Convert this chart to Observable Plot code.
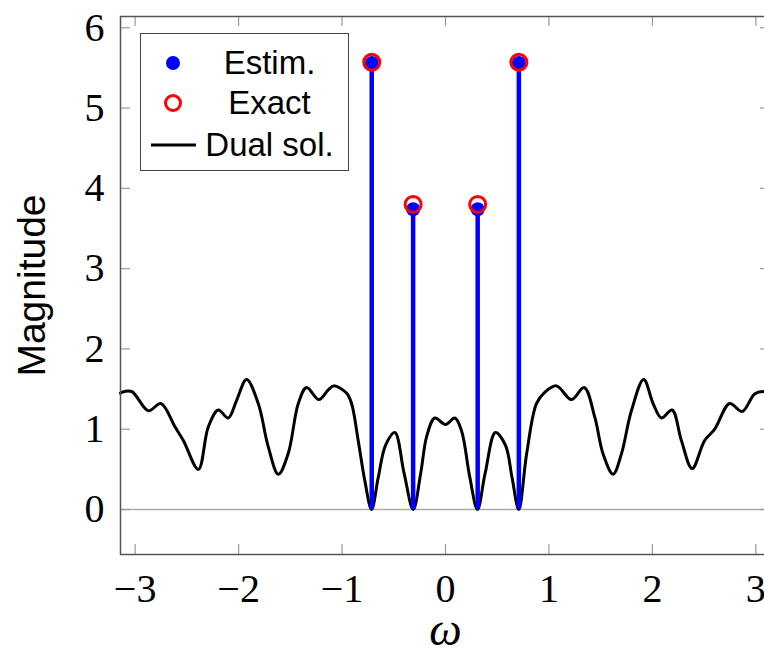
<!DOCTYPE html>
<html>
<head>
<meta charset="utf-8">
<script src="https://cdn.jsdelivr.net/npm/d3@7"></script>
<script src="https://cdn.jsdelivr.net/npm/@observablehq/plot@0.6"></script>
<style>
  html, body { margin: 0; padding: 0; background: white; overflow: hidden; }
  #wrap { position: relative; width: 764px; height: 650px; }
  #legend { position: absolute; left: 140px; top: 33px; width: 207px; height: 136px;
            border: 1.5px solid #444; background: white; font-family: "Liberation Sans", Arial, sans-serif; font-size: 33px; }
  .row { position: absolute; left: 0; width: 100%; height: 40px; }
  .row svg { position: absolute; left: 0; top: 0; }
  .row span { position: absolute; left: 50px; right: 0; text-align: center; line-height: 40px; top: 0; }
</style>
</head>
<body>
<div id="wrap"></div>
<script>
// Dual solution curve (omega, magnitude)
const dualOmega = [-3.142, -3.130, -3.034, -2.872, -2.751, -2.615, -2.534, -2.389, -2.293, -2.196, -2.100, -2.019,
  -1.923, -1.810, -1.713, -1.616, -1.520, -1.423, -1.343, -1.224, -1.133, -1.079, -0.957, -0.908, -0.844,
  -0.780, -0.715, -0.650, -0.580, -0.490, -0.400, -0.312, -0.240, -0.180, -0.103, 0.000,
  0.090, 0.155, 0.235, 0.309, 0.383, 0.483, 0.580, 0.643, 0.708, 0.785, 0.879, 0.959, 1.072, 1.217, 1.340,
  1.443, 1.524, 1.620, 1.700, 1.797, 1.916, 2.007, 2.087, 2.190, 2.280, 2.384, 2.505, 2.602,
  2.747, 2.867, 2.988, 3.070, 3.142];
const dualMag = [1.45, 1.46, 1.47, 1.23, 1.32, 1.03, 0.86, 0.50, 1.03, 1.24, 1.14, 1.36,
  1.62, 1.32, 0.78, 0.44, 0.70, 1.32, 1.52, 1.37, 1.49, 1.54, 1.45, 1.32, 0.86,
  0.36, 0.00, 0.40, 0.80, 0.96, 0.45, 0.00, 0.45, 0.92, 1.14, 1.06,
  1.14, 0.98, 0.40, 0.00, 0.45, 0.96, 0.80, 0.40, 0.00, 0.70, 1.32, 1.46, 1.54, 1.37, 1.52,
  1.15, 0.69, 0.44, 0.69, 1.23, 1.62, 1.32, 1.14, 1.24, 0.86, 0.51, 0.86, 1.00,
  1.32, 1.22, 1.44, 1.47, 1.45];

// Spikes
const spikeOmega = [-0.713, -0.313, 0.311, 0.709];
const estimMag = [5.56, 3.74, 3.74, 5.56];
const exactMag = [5.57, 3.80, 3.80, 5.57];

const xTicks = [-3, -2, -1, 0, 1, 2, 3];
const yTicks = [0, 1, 2, 3, 4, 5, 6];

const dual = dualOmega.map((w, i) => ({w, m: dualMag[i]}));
const estim = spikeOmega.map((w, i) => ({w, m: estimMag[i]}));
const exact = spikeOmega.map((w, i) => ({w, m: exactMag[i]}));

const serif = "Liberation Serif, Times New Roman, serif";
const sans = "Liberation Sans, Arial, sans-serif";
const tickStroke = "#9a9a9a";

const W = 764, H = 650, mL = 120, mR = -6, mT = 16, mB = 96;
const frameW = W - mL - mR, frameH = H - mT - mB, tickLen = 10;

const chart = Plot.plot({
  width: W,
  height: H,
  marginLeft: mL,
  marginRight: mR,
  marginTop: mT,
  marginBottom: mB,
  style: {maxWidth: "none", background: "white"},
  x: {domain: [-Math.PI, Math.PI]},
  y: {domain: [-0.56, 6.14]},
  axis: null,
  marks: [
    Plot.ruleY([0], {stroke: "#aaaaaa", strokeWidth: 1.5}),
    // inward ticks on four sides
    Plot.tickX(xTicks, {x: d => d, insetTop: frameH - tickLen, stroke: tickStroke, strokeWidth: 1.2}),
    Plot.tickX(xTicks, {x: d => d, insetBottom: frameH - tickLen, stroke: tickStroke, strokeWidth: 1.2}),
    Plot.tickY(yTicks, {y: d => d, insetRight: frameW - tickLen, stroke: tickStroke, strokeWidth: 1.2}),
    Plot.tickY(yTicks, {y: d => d, insetLeft: frameW - tickLen, stroke: tickStroke, strokeWidth: 1.2}),
    // tick labels
    Plot.axisX(xTicks, {anchor: "bottom", tickSize: 0, tickPadding: 19, fontSize: 40, fontFamily: serif, fill: "black", label: null, tickFormat: d3.format("d")}),
    Plot.axisY(yTicks, {anchor: "left", tickSize: 0, tickPadding: 16, fontSize: 40, fontFamily: serif, fill: "black", label: null, tickFormat: d3.format("d")}),
    // axis titles
    Plot.text(["ω"], {frameAnchor: "bottom", dy: 90, fontSize: 46, fontFamily: serif, fontStyle: "italic", fill: "black"}),
    Plot.text(["Magnitude"], {frameAnchor: "left", dx: -88, rotate: -90, textAnchor: "middle", fontSize: 39, fontFamily: sans, fill: "black"}),
    // curve
    Plot.line(dual, {x: "w", y: "m", stroke: "black", strokeWidth: 3, curve: "catmull-rom"}),
    // stems
    Plot.ruleX(estim, {x: "w", y1: 0, y2: "m", stroke: "#0000ff", strokeWidth: 4.5}),
    Plot.dot(estim, {x: "w", y: "m", r: 7, fill: "#0000ff", stroke: "none"}),
    Plot.dot(exact, {x: "w", y: "m", r: 8, fill: "none", stroke: "#ff0000", strokeWidth: 3}),
    Plot.frame({stroke: "#555", strokeWidth: 1.5})
  ]
});

const wrap = document.getElementById("wrap");
wrap.appendChild(chart);

// Legend
const legend = document.createElement("div");
legend.id = "legend";
legend.innerHTML = `
  <div class="row" style="top:9px"><svg width="62" height="40"><circle cx="32" cy="20" r="7" fill="#0000ff"/></svg><span>Estim.</span></div>
  <div class="row" style="top:49px"><svg width="62" height="40"><circle cx="32" cy="20" r="7.5" fill="none" stroke="#ff0000" stroke-width="3"/></svg><span>Exact</span></div>
  <div class="row" style="top:91px"><svg width="62" height="40"><line x1="10" x2="55" y1="20" y2="20" stroke="black" stroke-width="3"/></svg><span style="left:50px">Dual sol.</span></div>
`;
wrap.appendChild(legend);
</script>
</body>
</html>
